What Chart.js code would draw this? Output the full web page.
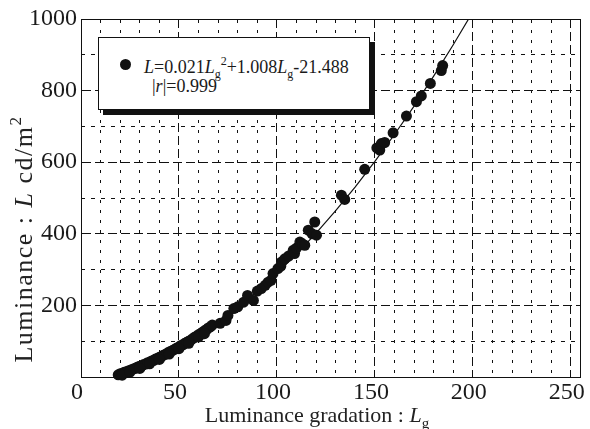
<!DOCTYPE html>
<html>
<head>
<meta charset="utf-8">
<script src="https://cdn.jsdelivr.net/npm/chart.js@4.4.1/dist/chart.umd.min.js"></script>
<style>
  html, body { margin: 0; padding: 0; background: #fff; }
  #wrap { position: relative; width: 590px; height: 429px; overflow: hidden; font-family: 'Liberation Serif', 'Times New Roman', serif; color: #1a1a1a; }
  #c { position: absolute; left: 0; top: 0; }
  .abs { position: absolute; white-space: nowrap; }
  .sub { position: relative; top: 5px; font-size: 12px; }
  .sup { position: relative; top: -8px; font-size: 12px; }
  #lshadow { position: absolute; left: 103px; top: 42px; width: 272px; height: 73px; background: #111; }
  #legend { position: absolute; left: 98px; top: 37px; width: 272px; height: 73px; box-sizing: border-box; border: 1px solid #111; background: #fff; }
  #ldot { position: absolute; left: 120px; top: 59px; width: 11px; height: 11px; border-radius: 50%; background: #111; }
  .lt { font-size: 18px; line-height: 18px; }
  #ytitle { left: -126px; top: 225px; width: 300px; height: 28px; line-height: 28px; text-align: center; font-size: 26px; letter-spacing: 1.5px; color: #222; transform: rotate(-90deg); transform-origin: 150px 14px; }
  #xtitle { left: 117px; top: 403px; width: 400px; line-height: 24px; text-align: center; font-size: 22px; color: #222; }
  #ytitle .sup { font-size: 17px; top: -11px; }
  #xtitle .sub { font-size: 15px; top: 6px; }
</style>
</head>
<body>
<div id="wrap">
  <canvas id="c" width="590" height="429"></canvas>
  <div id="lshadow"></div>
  <div id="legend"></div>
  <div id="ldot"></div>
  <div class="abs lt" style="left:144px; top:58px;"><i>L</i>=0.021<i>L</i><span class="sub">g</span><span class="sup">2</span>+1.008<i>L</i><span class="sub">g</span>-21.488</div>
  <div class="abs lt" style="left:152px; top:77px;">|<i>r</i>|=0.999</div>
  <div id="ytitle" class="abs">Luminance : <i>L</i> cd/m<span class="sup">2</span></div>
  <div id="xtitle" class="abs">Luminance gradation : <i>L</i><span class="sub">g</span></div>
</div>
<script>
// ---- data ----
const lowX = [19,20,21,22,23,24,25,26,27,28,29,30,31,32,33,34,35,36,37,38,39,40,41,42,43,44,45,46,47,48,49,50,51,52,53,54,55,56,57,58,59,60,61,62,63,64,65,66,67];
const lowY = [6,9,10,13,14,17,18,21,23,25,28,30,31,35,36,40,41,45,46,50,52,55,57,61,63,66,70,72,75,78,81,84,88,90,94,97,100,103,107,111,114,118,121,125,129,132,137,140,145];
const scatX = [21,25,30,35,40,45,50,55,60,63,71,74,75,78,80,83,85,88,90,92,94,95.5,97,98,100.5,102,102.3,104,106,108.3,109,110,111.7,113,114.2,116,118,119.3,120.2,132.9,134.6,144.8,151,152.5,153.3,155,159.3,166.1,171.2,173.7,178.3,183.9,184.6];
const scatY = [5,14,24,37,49,64,79,94,112,121,150,158,172,191,196,209,228,214,240,247,256,265,270,289,303,310,321,330,338,354,345,360,377,372,368,410,400,433,396,508,496,580,640,634,652,655,682,729,769,785,820,856,870];
// regression curve
const fitX = [18,20,30,40,50,60,70,80,90,100,110,120,130,140,150,160,170,180,190,200];
const fitY = [3.5,7.1,27.7,52.4,81.4,114.6,152.0,193.6,239.3,289.3,343.5,401.9,464.5,531.2,602.2,677.4,756.8,840.4,928.1,1020.1];
// tick labels / grid positions
const xTicks = [0,50,100,150,200,250];
const yTicks = [200,400,600,800,1000];
const xMinorTicks = [10,20,30,40,60,70,80,90,110,120,130,140,160,170,180,190,210,220,230,240];
const yMinorTicks = [100,300,500,700,900];

const points = [];
lowX.forEach((x, i) => points.push({x: x, y: lowY[i]}));
scatX.forEach((x, i) => points.push({x: x, y: scatY[i]}));
const fitPts = fitX.map((x, i) => ({x: x, y: fitY[i]}));

const ink = '#111';
const tickFont = {family: "'Liberation Serif', 'Times New Roman', serif", size: 24};
const plain = v => String(v);

new Chart(document.getElementById('c'), {
  type: 'scatter',
  data: {
    datasets: [
      { data: points, backgroundColor: ink, borderWidth: 0, pointRadius: 5.5, pointHoverRadius: 5.5, order: 1, clip: false },
      { data: fitPts, showLine: true, borderColor: ink, borderWidth: 1.2, pointRadius: 0, fill: false, order: 2 }
    ]
  },
  options: {
    responsive: false,
    animation: false,
    events: [],
    layout: { padding: { left: 0, top: 19, right: 9, bottom: 0 } },
    plugins: { legend: { display: false }, tooltip: { enabled: false } },
    scales: {
      x: {
        type: 'linear', min: 0, max: 255, position: 'bottom',
        afterBuildTicks: s => { s.ticks = xTicks.map(v => ({value: v})); },
        afterFit: s => { s.height = 52; },
        ticks: { font: tickFont, color: '#1a1a1a', padding: 1, labelOffset: -4, maxRotation: 0, callback: plain },
        grid: { color: ink, lineWidth: 1, drawTicks: false },
        border: { display: true, color: ink, width: 1, dash: [9, 4] }
      },
      y: {
        type: 'linear', min: 0, max: 1000, position: 'left',
        afterBuildTicks: s => { s.ticks = yTicks.map(v => ({value: v})); },
        afterFit: s => { s.width = 81; },
        ticks: { font: tickFont, color: '#1a1a1a', padding: 4, callback: plain },
        grid: { color: ink, lineWidth: 1, drawTicks: false },
        border: { display: true, color: ink, width: 1, dash: [9, 4] }
      },
      xMinor: {
        type: 'linear', min: 0, max: 255, position: 'top',
        afterBuildTicks: s => { s.ticks = xMinorTicks.map(v => ({value: v})); },
        afterFit: s => { s.height = 0; },
        ticks: { display: false },
        grid: { color: ink, lineWidth: 1, drawTicks: false },
        border: { display: true, color: ink, width: 1, dash: [3, 7] }
      },
      yMinor: {
        type: 'linear', min: 0, max: 1000, position: 'right',
        afterBuildTicks: s => { s.ticks = yMinorTicks.map(v => ({value: v})); },
        afterFit: s => { s.width = 0; },
        ticks: { display: false },
        grid: { color: ink, lineWidth: 1, drawTicks: false },
        border: { display: true, color: ink, width: 1, dash: [4, 6] }
      }
    }
  }
});
</script>
</body>
</html>
